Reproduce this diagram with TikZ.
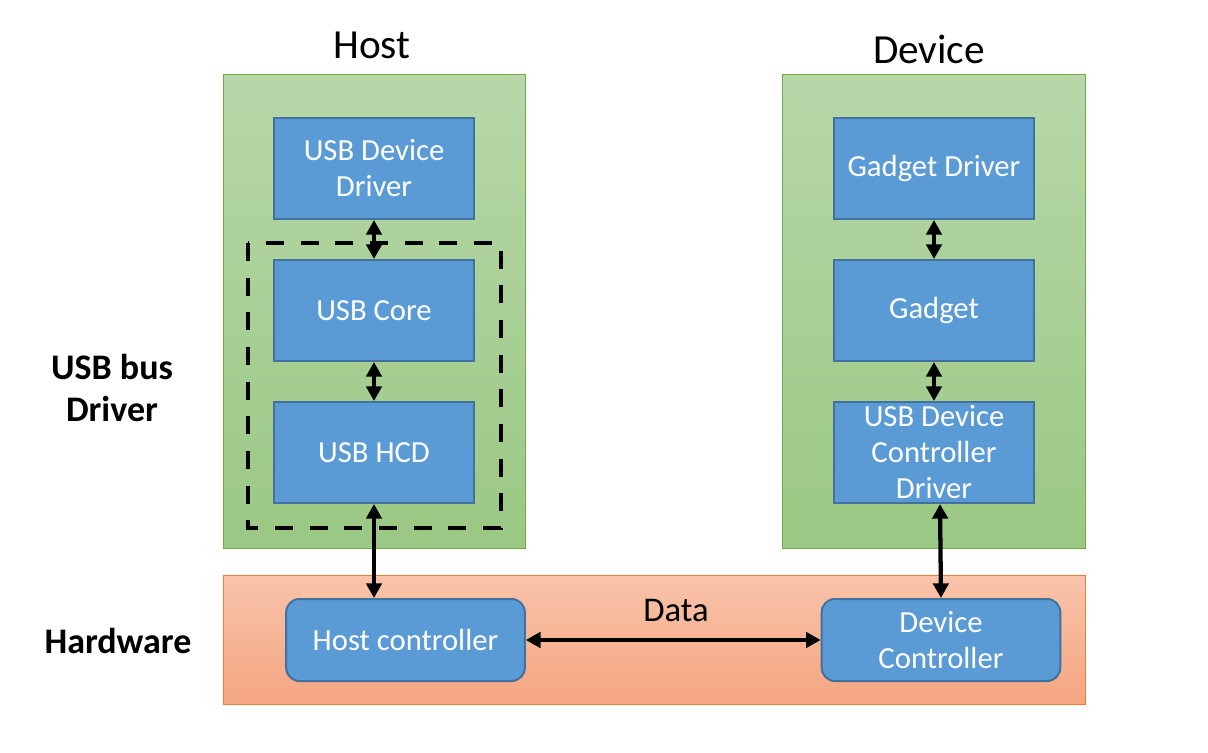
\documentclass[tikz,border=0pt]{standalone}
\usepackage{fontspec}
\setmainfont{Carlito}
\usetikzlibrary{arrows.meta}

\definecolor{layergreen}{RGB}{112,173,71}
\definecolor{greentop}{RGB}{183,215,168}
\definecolor{greenbot}{RGB}{155,200,132}
\definecolor{layerorange}{RGB}{237,125,49}
\definecolor{orangetop}{RGB}{248,195,170}
\definecolor{orangebot}{RGB}{245,166,130}
\definecolor{boxblue}{RGB}{91,155,213}
\definecolor{boxedge}{RGB}{65,113,156}

\tikzset{every picture/.style={line width=0.75pt}}
\tikzset{
  layer/.style={draw=layergreen, top color=greentop, bottom color=greenbot},
  hwlayer/.style={draw=layerorange, top color=orangetop, bottom color=orangebot},
  block/.style={draw=boxedge, line width=1.5pt, fill=boxblue, text=white, font=\fontsize{23}{27}\selectfont,
    minimum width=150pt, minimum height=75.75pt, align=center, inner sep=0pt},
  ctrl/.style={block, rounded corners=10pt, minimum width=179pt, minimum height=61.5pt},
  link/.style={line width=3.2pt, {Triangle[length=11pt,width=11.5pt]}-{Triangle[length=11pt,width=11.5pt]}},
  title/.style={font=\fontsize{31}{37}\selectfont},
  side/.style={font=\bfseries\fontsize{27}{32}\selectfont, align=center}
}

\begin{document}
\begin{tikzpicture}[x=0.75pt,y=0.75pt,yscale=-1,xscale=1]
\useasboundingbox (0,0) rectangle (1208,753);

% layers
\draw [layer] (223,74) rectangle (525,548);
\draw [layer] (782,74) rectangle (1085,548);
\draw [hwlayer] (223,575) rectangle (1085,704);

% bus driver frame
\draw [line width=3pt, dash pattern={on 13.5pt off 12.5pt}] (248,243) rectangle (501,528);

% host stack
\node [block] (usbdd) at (374,168.5) {USB Device\\Driver};
\node [block] (usbcore) at (374,310.5) {USB Core};
\node [block] (usbhcd) at (374,452.5) {USB HCD};

% device stack
\node [block] (gdriver) at (934,168.5) {Gadget Driver};
\node [block] (gadget) at (934,310.5) {Gadget};
\node [block] (udcdrv) at (934,452.5) {USB Device\\Controller\\Driver};

% hardware
\node [ctrl] (hostctrl) at (405.5,640) {Host controller};
\node [ctrl] (devctrl) at (941,640) {Device\\Controller};

% connectors
\draw [link] (usbdd.south) -- (usbcore.north);
\draw [link] (usbcore.south) -- (usbhcd.north);
\draw [link] (usbhcd.south) -- (hostctrl.north -| usbhcd.south);
\draw [link] (gdriver.south) -- (gadget.north);
\draw [link] (gadget.south) -- (udcdrv.north);
\draw [link] ([xshift=4.5pt]udcdrv.south) -- (devctrl.north);
\draw [link] (hostctrl.east) -- (devctrl.west);

% Text Node
\node [title] (hosttitle) at (372,45) {Host};
\node [title] (devtitle) at (929,49) {Device};
\node [side] (busdrv) at (112,388) {USB bus\\Driver};
\node [side] (hwlabel) at (118,641) {Hardware};
\node [font=\fontsize{26}{30}\selectfont] (datalabel) at (676,611) {Data};

\end{tikzpicture}
\end{document}
